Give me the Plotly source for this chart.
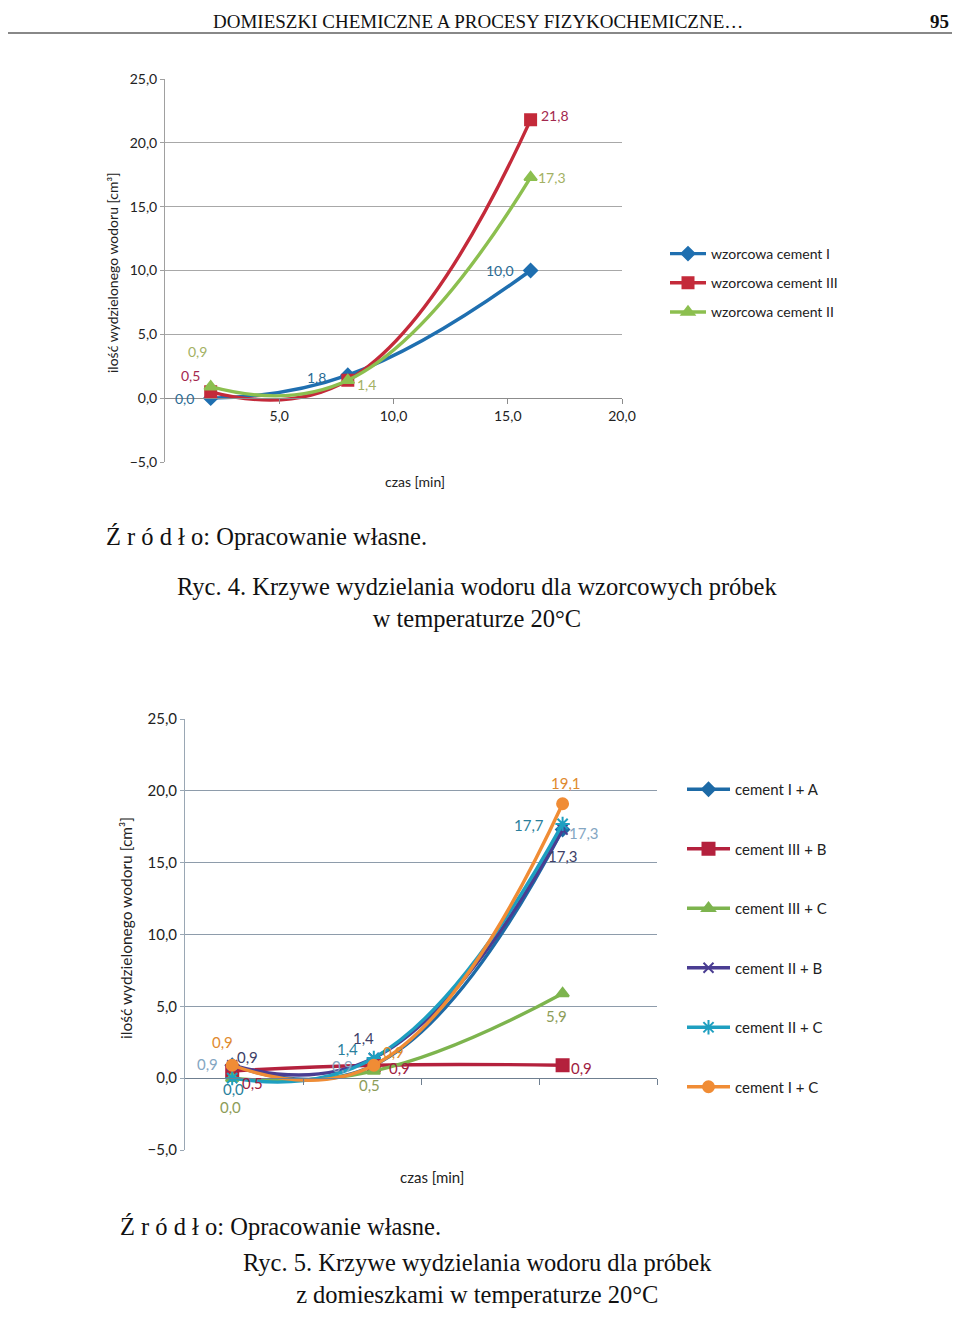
import plotly.graph_objects as go

# ---------------- data ----------------
time_min = [2, 8, 16]

# Figure 4 (reference samples)
f4_names = ["wzorcowa cement I", "wzorcowa cement III", "wzorcowa cement II"]
f4_cement_I = [0.0, 1.8, 10.0]
f4_cement_III = [0.5, 1.4, 21.8]
f4_cement_II = [0.9, 1.4, 17.3]

# Figure 5 (samples with admixtures)
f5_names = ["cement I + A", "cement III + B", "cement III + C",
            "cement II + B", "cement II + C", "cement I + C"]
f5_I_A = [0.9, 0.9, 17.3]
f5_III_B = [0.5, 0.9, 0.9]
f5_III_C = [0.0, 0.5, 5.9]
f5_II_B = [0.9, 1.4, 17.3]
f5_II_C = [0.0, 1.4, 17.7]
f5_I_C = [0.9, 0.9, 19.1]

x_ticks = [5, 10, 15, 20]
y_ticks = [-5, 0, 5, 10, 15, 20, 25]

# ---------------- styles / page geometry ----------------
OX, OY = 8, 8            # body margin of the html page
W, H = 944, 1303         # figure size so the page is exactly 960 x 1319
LABEL_FONT = "Lato, 'Open Sans', sans-serif"
SERIF = "'Liberation Serif', 'DejaVu Serif', serif"


def px(x):
    return (x - OX) / W


def py(y):
    return 1 - (y - OY) / H


f4_style = [
    dict(line="#1f6fb0", sym="diamond", size=10, lab="#2a6b95",
         offs=[(-26, 0), (-31, 2), (-31, 0)]),
    dict(line="#c42a3a", sym="square", size=11, lab="#a3284e",
         offs=[(-20, -16), None, (24, -4)]),
    dict(line="#8cbf4f", sym="triangle-up", size=11, lab="#a3b163",
         offs=[(-13, -35), (19, 4), (21, 0)]),
]
f5_style = [
    dict(line="#1d6aa6", sym="diamond", size=10, lab="#84a6c2",
         offs=[(-25, -1), (-31, 1), (21, 3)]),
    dict(line="#b4213d", sym="square", size=12, lab="#9e2040",
         offs=[(20, 12), (26, 3), (19, 3)]),
    dict(line="#7db44e", sym="triangle-up", size=11, lab="#8c9c58",
         offs=[(-2, 29), (-4, 14), (-6, 23)]),
    dict(line="#4a3d92", sym="x-thin-open", size=10, lab="#3e3f68",
         offs=[(15, -8), (-10, -20), (0, 26)]),
    dict(line="#1e9fc0", sym="asterisk-open", size=12, lab="#2a7f9c",
         offs=[(1, 11), (-26, -9), (-34, 1)]),
    dict(line="#f08c35", sym="circle", size=11, lab="#e08a2e",
         offs=[(-10, -23), (20, -13), (3, -21)]),
]

dom1_x, dom1_y = [px(165), px(622)], [py(462), py(79)]
dom2_x, dom2_y = [px(185), px(657)], [py(1150), py(719)]
YMIN, YMAX = -5, 25


def zero_pos(dy):
    return dy[0] + (dy[1] - dy[0]) * (0 - YMIN) / (YMAX - YMIN)


fig = go.Figure()
annotations = []


def fmt(v):
    return f"{v:.1f}".replace(".", ",")


def add_series(name, ys, st, xa, ya, legend, lab_size):
    fig.add_trace(go.Scatter(
        x=time_min, y=ys, name=name, mode="lines+markers",
        line=dict(color=st["line"], width=3.4, shape="spline", smoothing=1.3),
        marker=dict(symbol=st["sym"], size=st["size"], color=st["line"],
                    line=dict(color=st["line"], width=2)),
        xaxis=xa, yaxis=ya, legend=legend, legendgroup=name,
    ))
    for xv, yv, off in zip(time_min, ys, st["offs"]):
        if off is None:
            continue
        annotations.append(dict(
            x=xv, y=yv, xref=xa, yref=ya, text=fmt(yv), showarrow=False,
            xanchor="center", yanchor="middle",
            xshift=off[0], yshift=-off[1],
            font=dict(family=LABEL_FONT, size=lab_size, color=st["lab"]),
        ))


for name, ys, st in zip(f4_names, [f4_cement_I, f4_cement_III, f4_cement_II], f4_style):
    add_series(name, ys, st, "x", "y", "legend", 14)
for name, ys, st in zip(f5_names, [f5_I_A, f5_III_B, f5_III_C, f5_II_B, f5_II_C, f5_I_C], f5_style):
    add_series(name, ys, st, "x2", "y2", "legend2", 15)

tick1 = dict(family=LABEL_FONT, size=14, color="#222")
tick2 = dict(family=LABEL_FONT, size=15, color="#222")

fig.update_layout(
    width=W, height=H, margin=dict(l=0, r=0, t=0, b=0, autoexpand=False),
    paper_bgcolor="white", plot_bgcolor="white",
    separators=", ",
    showlegend=True,
    xaxis=dict(domain=dom1_x, range=[0, 20], anchor="free", position=zero_pos(dom1_y),
               tickvals=x_ticks, tickformat=".1f", tickfont=tick1,
               showgrid=False, zeroline=False, showline=True, linecolor="#8c8c8c",
               ticks="outside", ticklen=5, tickcolor="#8c8c8c"),
    yaxis=dict(domain=dom1_y, range=[YMIN, YMAX], anchor="x", tickvals=y_ticks,
               tickformat=".1f", tickfont=tick1, showgrid=True,
               gridcolor="#a8a8a8", gridwidth=1.2, zeroline=False, showline=True,
               linecolor="#a0a0a0", ticks="outside", ticklen=4, tickcolor="#a0a0a0"),
    xaxis2=dict(domain=dom2_x, range=[0, 20], anchor="free", position=zero_pos(dom2_y),
                tickvals=x_ticks, showticklabels=False,
                showgrid=False, zeroline=False, showline=True, linecolor="#6f7f90",
                ticks="outside", ticklen=6, tickcolor="#6f7f90"),
    yaxis2=dict(domain=dom2_y, range=[YMIN, YMAX], anchor="x2", tickvals=y_ticks,
                tickformat=".1f", tickfont=tick2, showgrid=True,
                gridcolor="#8e9cab", gridwidth=1.4, zeroline=False, showline=True,
                linecolor="#9aa7b4", ticks="outside", ticklen=4, tickcolor="#9aa7b4"),
    legend=dict(x=px(665), y=py(238), xanchor="left", yanchor="top",
                font=dict(family=LABEL_FONT, size=14, color="#222"),
                tracegroupgap=8, itemwidth=36, bgcolor="rgba(0,0,0,0)"),
    legend2=dict(x=px(682), y=py(773), xanchor="left", yanchor="top",
                 font=dict(family=LABEL_FONT, size=15, color="#222"),
                 tracegroupgap=37, itemwidth=43, bgcolor="rgba(0,0,0,0)"),
)

C = dict(xanchor="center", yanchor="middle", showarrow=False, xref="paper", yref="paper")
L = dict(xanchor="left", yanchor="middle", showarrow=False, xref="paper", yref="paper")
R = dict(xanchor="right", yanchor="middle", showarrow=False, xref="paper", yref="paper")
T = dict(xanchor="center", yanchor="top", showarrow=False, xref="paper", yref="paper")

# axis titles
annotations += [
    dict(C, x=px(112), y=py(273), text="ilość wydzielonego wodoru [cm³]", textangle=-90,
         font=dict(family=LABEL_FONT, size=14, color="#222")),
    dict(C, x=px(415), y=py(481), text="czas [min]",
         font=dict(family=LABEL_FONT, size=14, color="#222")),
    dict(C, x=px(126), y=py(928), text="ilość wydzielonego wodoru [cm³]", textangle=-90,
         font=dict(family=LABEL_FONT, size=15.5, color="#222")),
    dict(C, x=px(432), y=py(1177), text="czas [min]",
         font=dict(family=LABEL_FONT, size=15, color="#222")),
]

# page text (every text kept inside the figure box)
serif = dict(family=SERIF, size=24.5, color="#111")
annotations += [
    dict(T, x=px(478), y=py(9), text="DOMIESZKI CHEMICZNE A PROCESY FIZYKOCHEMICZNE…",
         font=dict(family=SERIF, size=19, color="#111")),
    dict(T, x=px(939), y=py(9), text="<b>95</b>",
         font=dict(family=SERIF, size=19, color="#111")),
    dict(L, x=px(104), y=py(536), text="Ź r ó d ł o: Opracowanie własne.", font=serif),
    dict(C, x=px(477), y=py(602),
         text="Ryc. 4. Krzywe wydzielania wodoru dla wzorcowych próbek<br>w temperaturze 20°C",
         font=serif),
    dict(L, x=px(118), y=py(1226), text="Ź r ó d ł o: Opracowanie własne.", font=serif),
    dict(xanchor="center", yanchor="bottom", showarrow=False, xref="paper", yref="paper",
         x=px(477), y=py(1310),
         text="Ryc. 5. Krzywe wydzielania wodoru dla próbek<br>z domieszkami w temperaturze 20°C",
         font=serif),
]

fig.update_layout(annotations=annotations)
fig.add_shape(type="line", xref="paper", yref="paper", x0=0, x1=1,
              y0=py(33), y1=py(33), line=dict(color="#888", width=2))

fig.write_html("out.html")
